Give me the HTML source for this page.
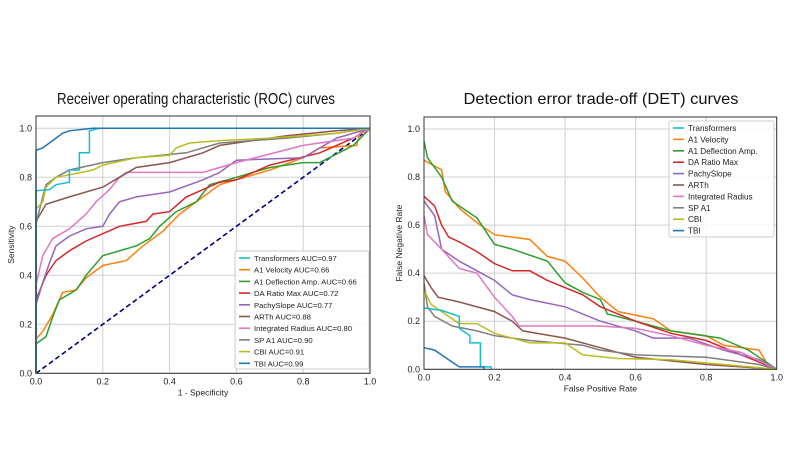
<!DOCTYPE html>
<html><head><meta charset="utf-8"><style>
body{margin:0;background:#fff;width:800px;height:450px;overflow:hidden;font-family:"Liberation Sans",sans-serif}
svg{display:block}
</style></head><body>
<svg id="c" width="800" height="450"></svg>
<script>
const rocTransformers=[[0,0],[0,0.745],[0.04,0.75],[0.06,0.77],[0.1,0.78],[0.1,0.83],[0.13,0.83],[0.13,0.9],[0.16,0.9],[0.16,0.99],[0.19,1],[1,1]];
const rocA1Velocity=[[0,0],[0,0.14],[0.02,0.17],[0.05,0.24],[0.08,0.33],[0.12,0.34],[0.15,0.39],[0.2,0.44],[0.27,0.46],[0.32,0.52],[0.38,0.58],[0.43,0.65],[0.5,0.72],[0.55,0.77],[0.6,0.79],[0.7,0.83],[0.8,0.88],[0.85,0.92],[0.96,0.93],[0.97,0.98],[1,1]];
const rocA1Deflection=[[0,0],[0,0.12],[0.03,0.15],[0.05,0.23],[0.07,0.3],[0.12,0.34],[0.15,0.4],[0.2,0.48],[0.3,0.52],[0.34,0.55],[0.37,0.6],[0.42,0.66],[0.48,0.7],[0.52,0.77],[0.6,0.8],[0.7,0.84],[0.8,0.86],[0.85,0.86],[0.95,0.93],[1,1]];
const rocDARatio=[[0,0],[0,0.3],[0.03,0.4],[0.06,0.46],[0.1,0.5],[0.15,0.54],[0.2,0.57],[0.25,0.6],[0.33,0.62],[0.35,0.65],[0.4,0.66],[0.45,0.72],[0.5,0.75],[0.55,0.78],[0.6,0.79],[0.7,0.85],[0.85,0.9],[0.95,0.96],[1,1]];
const rocPachySlope=[[0,0],[0,0.28],[0.02,0.37],[0.04,0.45],[0.06,0.52],[0.1,0.56],[0.15,0.59],[0.2,0.6],[0.22,0.65],[0.25,0.7],[0.3,0.72],[0.4,0.74],[0.5,0.79],[0.55,0.82],[0.6,0.87],[0.8,0.88],[0.9,0.96],[1,1]];
const rocARTh=[[0,0],[0,0.62],[0.03,0.69],[0.1,0.72],[0.2,0.76],[0.25,0.8],[0.3,0.84],[0.4,0.86],[0.5,0.9],[0.55,0.93],[0.75,0.97],[0.9,0.99],[1,1]];
const rocIntRadius=[[0,0],[0,0.36],[0.02,0.48],[0.05,0.55],[0.1,0.59],[0.15,0.65],[0.18,0.7],[0.22,0.75],[0.25,0.8],[0.27,0.82],[0.5,0.82],[0.6,0.86],[0.8,0.93],[0.95,0.96],[1,1]];
const rocSPA1=[[0,0],[0,0.61],[0.02,0.72],[0.03,0.77],[0.06,0.8],[0.1,0.83],[0.2,0.86],[0.3,0.88],[0.45,0.9],[0.5,0.92],[0.55,0.94],[0.75,0.96],[0.9,0.98],[1,1]];
const rocCBI=[[0,0],[0,0.67],[0.02,0.7],[0.03,0.76],[0.06,0.8],[0.1,0.81],[0.17,0.83],[0.2,0.85],[0.3,0.88],[0.4,0.89],[0.42,0.92],[0.46,0.94],[0.55,0.95],[0.7,0.96],[0.9,0.98],[1,1]];
const rocTBI=[[0,0],[0,0.91],[0.02,0.92],[0.04,0.94],[0.06,0.96],[0.08,0.98],[0.1,0.99],[0.17,1],[1,1]];

const detTransformers=[[0,0.255],[0.05,0.245],[0.1,0.22],[0.1,0.17],[0.13,0.14],[0.13,0.11],[0.16,0.11],[0.16,0.01],[0.19,0.01],[0.19,0]];
const detA1Velocity=[[0,0.87],[0.05,0.83],[0.06,0.74],[0.1,0.67],[0.15,0.61],[0.2,0.56],[0.3,0.54],[0.35,0.47],[0.4,0.45],[0.45,0.38],[0.5,0.3],[0.55,0.24],[0.65,0.21],[0.7,0.16],[0.8,0.14],[0.85,0.1],[0.95,0.08],[0.97,0.03],[1,0]];
const detA1Deflection=[[0,0.95],[0.01,0.88],[0.05,0.8],[0.08,0.7],[0.15,0.63],[0.2,0.52],[0.25,0.5],[0.35,0.45],[0.4,0.36],[0.45,0.32],[0.5,0.29],[0.52,0.23],[0.6,0.2],[0.7,0.16],[0.84,0.13],[0.92,0.08],[1,0]];
const detDARatio=[[0,0.72],[0.03,0.68],[0.05,0.6],[0.07,0.55],[0.1,0.53],[0.15,0.49],[0.2,0.44],[0.25,0.41],[0.3,0.41],[0.35,0.37],[0.45,0.31],[0.5,0.26],[0.6,0.2],[0.7,0.15],[0.8,0.12],[0.9,0.06],[1,0]];
const detPachySlope=[[0,0.7],[0.03,0.64],[0.05,0.5],[0.1,0.45],[0.15,0.41],[0.2,0.37],[0.25,0.31],[0.3,0.29],[0.4,0.26],[0.5,0.2],[0.6,0.16],[0.65,0.13],[0.75,0.13],[0.85,0.08],[0.95,0.04],[1,0]];
const detARTh=[[0,0.39],[0.02,0.34],[0.04,0.3],[0.1,0.28],[0.2,0.24],[0.25,0.2],[0.28,0.16],[0.4,0.13],[0.5,0.09],[0.6,0.05],[0.8,0.02],[0.9,0.01],[1,0]];
const detIntRadius=[[0,0.64],[0.01,0.56],[0.05,0.5],[0.1,0.42],[0.15,0.4],[0.2,0.3],[0.25,0.22],[0.27,0.18],[0.5,0.18],[0.6,0.17],[0.7,0.14],[0.8,0.1],[0.9,0.07],[1,0]];
const detSPA1=[[0,0.36],[0.01,0.26],[0.03,0.22],[0.08,0.18],[0.15,0.16],[0.2,0.14],[0.3,0.12],[0.45,0.1],[0.5,0.08],[0.6,0.06],[0.8,0.05],[0.95,0.02],[1,0]];
const detCBI=[[0,0.33],[0.02,0.27],[0.05,0.24],[0.1,0.19],[0.15,0.19],[0.2,0.15],[0.3,0.11],[0.4,0.11],[0.45,0.06],[0.55,0.045],[0.7,0.04],[0.85,0.02],[1,0]];
const detTBI=[[0,0.09],[0.03,0.08],[0.05,0.06],[0.08,0.03],[0.1,0.01],[0.17,0.01],[0.17,0]];

const seriesNames=["Transformers","A1 Velocity","A1 Deflection Amp.","DA Ratio Max","PachySlope","ARTh","Integrated Radius","SP A1","CBI","TBI"];
const aucValues=["0.97","0.66","0.66","0.72","0.77","0.88","0.80","0.90","0.91","0.99"];
const tickLabels=["0.0","0.2","0.4","0.6","0.8","1.0"];
const tickValues=[0,0.2,0.4,0.6,0.8,1.0];
const colors=["#17becf","#ff7f0e","#2ca02c","#d62728","#9467bd","#8c564b","#e377c2","#7f7f7f","#bcbd22","#1f77b4"];
const rocData=[rocTransformers,rocA1Velocity,rocA1Deflection,rocDARatio,rocPachySlope,rocARTh,rocIntRadius,rocSPA1,rocCBI,rocTBI];
const detData=[detTransformers,detA1Velocity,detA1Deflection,detDARatio,detPachySlope,detARTh,detIntRadius,detSPA1,detCBI,detTBI];

const NS="http://www.w3.org/2000/svg";
const svg=document.getElementById('c');
function mk(tag,attrs,parent,text){const e=document.createElementNS(NS,tag);for(const k in attrs)e.setAttribute(k,attrs[k]);if(text!==undefined)e.textContent=text;(parent||svg).appendChild(e);return e;}

function panel(P){
  const g=mk('g',{});
  
  
  const sx=v=>P.x0+v*(P.x1-P.x0), sy=v=>P.y0-v*(P.y0-P.y1);
  tickValues.forEach((t,i)=>{
    const gl=mk('line',{x1:sx(t),x2:sx(t),y1:P.top,y2:P.bot,stroke:'#d0d0d0','stroke-width':1},g);
    
    
    const gy=mk('line',{x1:P.left,x2:P.right,y1:sy(t),y2:sy(t),stroke:'#d0d0d0','stroke-width':1},g);
    
    
    const xt=mk('text',{x:sx(t),y:P.bot+11,'font-size':9,'text-anchor':'middle',fill:'#222'},g,tickLabels[i]);
    
    
    const yt=mk('text',{x:P.left-4,y:sy(t)+3,'font-size':9,'text-anchor':'end',fill:'#222'},g,tickLabels[i]);
    
    
  });
  if(P.key==='roc'){
    const d=mk('line',{x1:sx(0),y1:sy(0),x2:sx(1),y2:sy(1),stroke:'#000080','stroke-width':1.6,'stroke-dasharray':'5,3'},g);
    
    
  }
  const order=[1,2,3,4,6,5,7,8,0,9];
  order.forEach(i=>{
    const pts=P.data[i].map(p=>sx(p[0]).toFixed(1)+','+sy(p[1]).toFixed(1)).join(' ');
    const l=mk('polyline',{points:pts,fill:'none',stroke:colors[i],'stroke-width':1.5},g);
    
    
  });
  const fr=mk('rect',{x:P.left,y:P.top,width:P.right-P.left,height:P.bot-P.top,fill:'none',stroke:'#333','stroke-width':1},g);
  
  
  const tt=mk('text',{x:P.tx,y:104,'font-size':16,'text-anchor':'middle',fill:'#111',textLength:P.tl,lengthAdjust:'spacingAndGlyphs'},g,P.title);
  
  
  const xl=mk('text',{x:(P.left+P.right)/2,y:P.bot+22,'font-size':8.5,'text-anchor':'middle',fill:'#222'},g,P.xlabel);
  
  
  const yl=mk('text',{x:0,y:0,'font-size':8.5,'text-anchor':'middle',fill:'#222',transform:`translate(${P.left-22},${(P.top+P.bot)/2}) rotate(-90)`},g,P.ylabel);
  
  
  const L=P.leg;
  const lg=mk('g',{},g);
  
  
  mk('rect',{x:L.x,y:L.y,width:L.w,height:L.h,fill:'#fff','fill-opacity':0.85,stroke:'#ccc',rx:2},lg);
  seriesNames.forEach((n,i)=>{
    const yy=L.y+7+i*L.dy;
    const e=mk('g',{},lg);
    
    
    mk('line',{x1:L.x+4,x2:L.x+15,y1:yy,y2:yy,stroke:colors[i],'stroke-width':1.6},e);
    mk('text',{x:L.x+19,y:yy+3,'font-size':L.fs,fill:'#222'},e,P.key==='roc'?n+' AUC='+aucValues[i]:n);
  });
}
panel({key:'roc',data:rocData,x0:36,x1:370,y0:373.3,y1:128.3,left:36,right:370,top:116,bot:373.3,
  title:'Receiver operating characteristic (ROC) curves',tx:196,tl:278,xlabel:'1 - Specificity',ylabel:'Sensitivity',
  leg:{x:235,y:251,w:134,h:118,dy:11.7,fs:7.7}});
panel({key:'det',data:detData,x0:424,x1:776.7,y0:369.3,y1:129,left:424,right:776.7,top:117,bot:369.3,
  title:'Detection error trade-off (DET) curves',tx:601,tl:275,xlabel:'False Positive Rate',ylabel:'False Negative Rate',
  leg:{x:669,y:121,w:105,h:116,dy:11.4,fs:8.2}});
</script>
</body></html>
